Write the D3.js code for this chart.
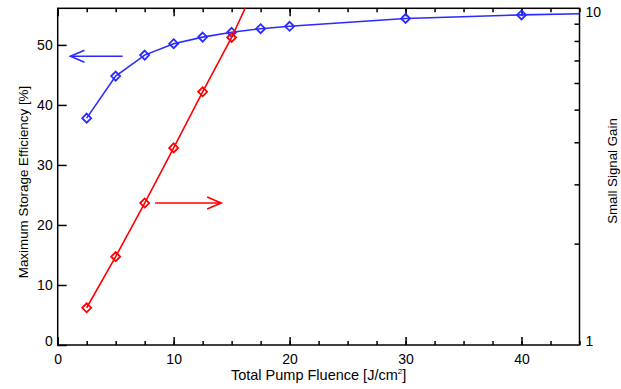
<!DOCTYPE html>
<html>
<head>
<meta charset="utf-8">
<script src="https://cdn.jsdelivr.net/npm/d3@7"></script>
<style>
  body { margin: 0; background: #fff; }
  text { font-family: "Liberation Sans", Arial, sans-serif; fill: #000; }
</style>
</head>
<body>
<div id="chart"></div>
<script>
// efficiency data (left axis, %)
var effX = [2.5, 5, 7.5, 10, 12.5, 15, 17.5, 20, 30, 40, 50];
var effY = [37.8, 44.8, 48.3, 50.2, 51.3, 52.1, 52.7, 53.1, 54.4, 55.0, 55.4];

// small signal gain data (right axis, log)
var gainX = [2.5, 5, 7.5, 10, 12.5, 15, 17.5];
var gainY = [1.29, 1.83, 2.64, 3.85, 5.65, 8.19, 12.6];

// tick values
var xTicks = [0, 10, 20, 30, 40];
var yLeftTicks = [0, 10, 20, 30, 40, 50];
var yRightTicks = [1, 10];

// arrows [x1, x2, y] in data units
var effArrow = [5.6, 1.1, 48.1];     // left axis units
var gainArrow = [8.4, 14.1, 2.64];   // right axis units

var blue = "#2b2bff", red = "#ff0000";

var W = 621, H = 389;
var mLeft = 57.7, mRight = 579.5, mTop = 8.3, mBottom = 345;

var svg = d3.select("#chart").append("svg")
    .attr("width", W)
    .attr("height", H);

var x = d3.scaleLinear().domain([0, 45]).range([mLeft, mRight]);
var yL = d3.scaleLinear().domain([0, 56.1]).range([mBottom, mTop]);
var yR = d3.scaleLog().domain([1, 10]).range([mBottom, mTop]);

svg.append("clipPath").attr("id", "plotclip")
  .append("rect")
    .attr("x", mLeft).attr("y", mTop)
    .attr("width", mRight - mLeft).attr("height", mBottom - mTop);

// bottom axis
var minorX = d3.range(0, 45.01, 2.5);
svg.append("g")
    .attr("transform", "translate(0," + mBottom + ")")
    .call(d3.axisBottom(x).tickValues(minorX).tickSize(-4).tickFormat(""))
    .call(function (g) { g.select(".domain").remove(); });
svg.append("g")
    .attr("transform", "translate(0," + mBottom + ")")
    .call(d3.axisBottom(x).tickValues(xTicks).tickSize(-8).tickPadding(9).tickFormat(d3.format("d")))
    .call(function (g) {
      g.select(".domain").remove();
      g.selectAll("text").attr("font-size", 14);
    });

// top axis (ticks only)
svg.append("g")
    .attr("transform", "translate(0," + mTop + ")")
    .call(d3.axisTop(x).tickValues(minorX).tickSize(-4).tickFormat(""))
    .call(function (g) { g.select(".domain").remove(); });
svg.append("g")
    .attr("transform", "translate(0," + mTop + ")")
    .call(d3.axisTop(x).tickValues(xTicks).tickSize(-8).tickFormat(""))
    .call(function (g) { g.select(".domain").remove(); });

// left axis
svg.append("g")
    .attr("transform", "translate(" + mLeft + ",0)")
    .call(d3.axisLeft(yL).tickValues(yLeftTicks).tickSize(-9).tickPadding(5).tickFormat(d3.format("d")))
    .call(function (g) {
      g.select(".domain").remove();
      g.selectAll("text").attr("font-size", 14)
        .attr("dy", function (d) { return d === 0 ? "0em" : "0.32em"; });
    });

// right axis (log)
var minorR = d3.range(2, 10);
svg.append("g")
    .attr("transform", "translate(" + mRight + ",0)")
    .call(d3.axisRight(yR).tickValues(minorR).tickSize(-5).tickFormat(""))
    .call(function (g) { g.select(".domain").remove(); });
svg.append("g")
    .attr("transform", "translate(" + mRight + ",0)")
    .call(d3.axisRight(yR).tickValues(yRightTicks).tickSize(0).tickPadding(6).tickFormat(d3.format("d")))
    .call(function (g) {
      g.select(".domain").remove();
      g.selectAll("text").attr("font-size", 14)
        .attr("dy", function (d) { return d === 1 ? "0em" : "0.6em"; });
    });

// frame
svg.append("rect")
    .attr("x", mLeft).attr("y", mTop)
    .attr("width", mRight - mLeft).attr("height", mBottom - mTop)
    .attr("fill", "none").attr("stroke", "#000").attr("stroke-width", 1.5);
svg.selectAll(".tick line").attr("stroke", "#000").attr("stroke-width", 1.5);

var plot = svg.append("g").attr("clip-path", "url(#plotclip)");

function diamond(sel, color) {
  sel.attr("d", "M0,-4.5L4.5,0L0,4.5L-4.5,0Z")
    .attr("fill", "none")
    .attr("stroke", color)
    .attr("stroke-width", 1.8);
}

// efficiency series
var effData = effX.map(function (d, i) { return [d, effY[i]]; });
plot.append("path")
    .datum(effData)
    .attr("fill", "none")
    .attr("stroke", blue)
    .attr("stroke-width", 1.6)
    .attr("d", d3.line()
      .x(function (d) { return x(d[0]); })
      .y(function (d) { return yL(d[1]); }));
plot.selectAll(".effpt")
    .data(effData)
  .enter().append("path")
    .attr("class", "effpt")
    .attr("transform", function (d) { return "translate(" + x(d[0]) + "," + yL(d[1]) + ")"; })
    .call(diamond, blue);

// gain series
var gainData = gainX.map(function (d, i) { return [d, gainY[i]]; });
plot.append("path")
    .datum(gainData)
    .attr("fill", "none")
    .attr("stroke", red)
    .attr("stroke-width", 1.6)
    .attr("d", d3.line()
      .x(function (d) { return x(d[0]); })
      .y(function (d) { return yR(d[1]); }));
plot.selectAll(".gainpt")
    .data(gainData)
  .enter().append("path")
    .attr("class", "gainpt")
    .attr("transform", function (d) { return "translate(" + x(d[0]) + "," + yR(d[1]) + ")"; })
    .call(diamond, red);

// arrows
function arrow(x1, x2, y, color) {
  var dir = x2 > x1 ? 1 : -1;
  var g = svg.append("g")
      .attr("fill", "none")
      .attr("stroke", color)
      .attr("stroke-width", 1.6);
  g.append("line")
      .attr("x1", x1).attr("x2", x2)
      .attr("y1", y).attr("y2", y);
  g.append("path")
      .attr("d", "M" + (x2 - dir * 14) + "," + (y - 6) + "L" + x2 + "," + y +
                 "L" + (x2 - dir * 14) + "," + (y + 6));
}
arrow(x(effArrow[0]), x(effArrow[1]), yL(effArrow[2]), blue);
arrow(x(gainArrow[0]), x(gainArrow[1]), yR(gainArrow[2]), red);

// axis titles
svg.append("text")
    .attr("x", (mLeft + mRight) / 2).attr("y", 380)
    .attr("text-anchor", "middle")
    .attr("font-size", 14.5)
    .html('Total Pump Fluence [J/cm<tspan font-size="8" dy="-6">2</tspan><tspan dy="6">]</tspan>');

svg.append("text")
    .attr("transform", "translate(28,182) rotate(-90)")
    .attr("text-anchor", "middle")
    .attr("font-size", 13.4)
    .text("Maximum Storage Efficiency [%]");

svg.append("text")
    .attr("transform", "translate(617,171) rotate(-90)")
    .attr("text-anchor", "middle")
    .attr("font-size", 13.3)
    .text("Small Signal Gain");
</script>
</body>
</html>
